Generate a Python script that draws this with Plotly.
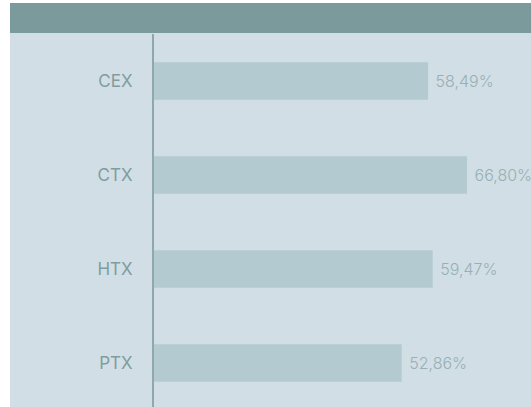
import plotly.graph_objects as go

categories = ["CEX", "CTX", "HTX", "PTX"]
values = [58.49, 66.80, 59.47, 52.86]

W, H = 531, 407
L, T = 154, 34
pw, ph = W - L, H - T

def px_x(p):
    return (p - L) / pw

def px_y(p):
    return (H - p) / ph

fig = go.Figure(go.Bar(
    x=values, y=categories, orientation="h", width=0.4,
    marker=dict(color="#b3cbd0", line=dict(width=0)),
    texttemplate=" %{x:.2f}%", textposition="outside",
    textfont=dict(color="#97b0b3", size=16, family="Inter", weight=300),
    cliponaxis=False, constraintext="none", hoverinfo="skip",
))

fig.update_layout(
    width=W, height=H, margin=dict(l=L, r=0, t=T, b=0),
    paper_bgcolor="white", plot_bgcolor="rgba(0,0,0,0)",
    separators=",.", showlegend=False,
    font=dict(family="Inter", size=16, color="#7f9d9f"),
    shapes=[
        dict(type="rect", xref="paper", yref="paper", x0=px_x(10), x1=px_x(531),
             y0=px_y(407), y1=px_y(33), fillcolor="#d1dee5", line=dict(width=0), layer="below"),
        dict(type="rect", xref="paper", yref="paper", x0=px_x(10), x1=px_x(531),
             y0=px_y(33), y1=px_y(3), fillcolor="#7a9a9b", line=dict(width=0), layer="below"),
    ],
)
fig.update_xaxes(range=[0, 80.45], visible=False, fixedrange=True)
fig.update_yaxes(categoryorder="array", categoryarray=categories,
                 range=[3.468, -0.5], showline=True, linecolor="#8ea8ab", linewidth=2,
                 showgrid=False, zeroline=False, ticks="", ticklabelstandoff=16,
                 tickfont=dict(family="Inter", size=17, color="#7f9d9f", weight=400),
                 fixedrange=True)

fig.write_html("out.html", config={"displayModeBar": False},
               post_script="document.body.style.margin='0';document.body.style.overflow='hidden';")
